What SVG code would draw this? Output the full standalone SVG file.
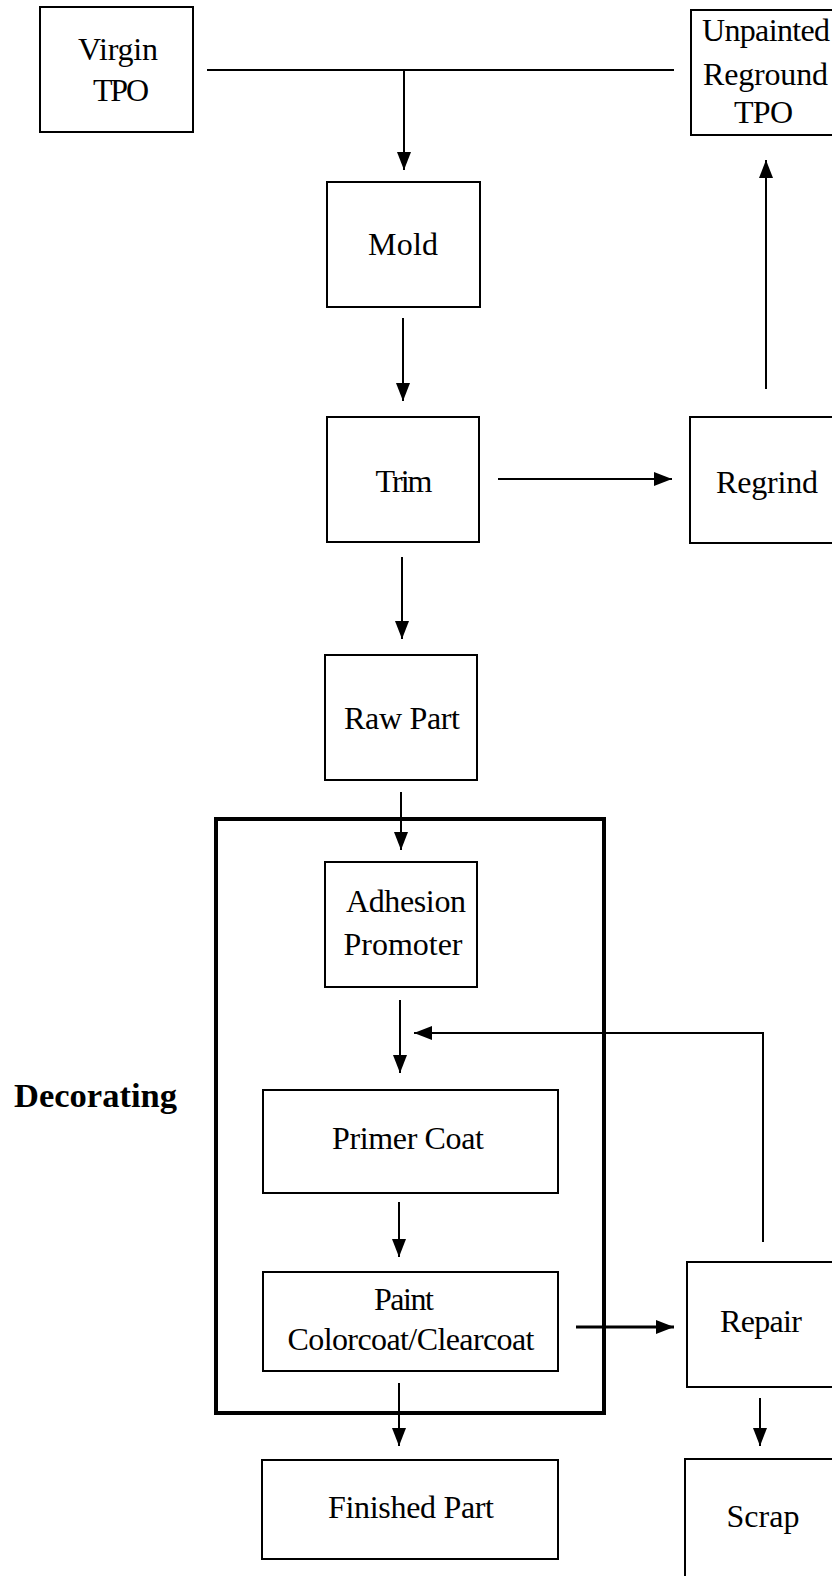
<svg xmlns="http://www.w3.org/2000/svg" width="832" height="1576" viewBox="0 0 832 1576">
  <style>
    .box { fill: #fff; stroke: #000; stroke-width: 2; }
    .frame { fill: none; stroke: #000; stroke-width: 4; }
    .lbl { font-family: "Liberation Serif", "Times New Roman", serif; font-size: 32px; fill: #000; }
    .mid { text-anchor: middle; }
    .bold { font-weight: bold; font-size: 34px; }
    .wire { fill: none; stroke: #000; stroke-width: 2; }
    .thick { stroke-width: 3; }
    .arr { marker-end: url(#head); }
  </style>
  <defs>
    <marker id="head" viewBox="0 0 18 14" refX="18" refY="7" markerWidth="18" markerHeight="14" markerUnits="userSpaceOnUse" orient="auto">
      <path d="M0,0 L18,7 L0,14 z" fill="#000"/>
    </marker>
  </defs>
  <rect width="832" height="1576" fill="#fff"/>

  <!-- decorating section frame -->
  <g id="decorating">
    <rect class="frame" x="216" y="819" width="388" height="594"/>
    <text class="lbl bold" x="14" y="1107" textLength="163" lengthAdjust="spacingAndGlyphs">Decorating</text>
  </g>

  <g id="connectors">
    <!-- feed line joining both material sources -->
    <path class="wire" d="M207,70 H674"/>
    <path class="wire arr" d="M404,70 V170"/>
    <path class="wire arr" d="M766,389 V160"/>
    <path class="wire arr" d="M403,318 V401"/>
    <path class="wire arr" d="M498,479 H672"/>
    <path class="wire arr" d="M402,557 V639"/>
    <path class="wire arr" d="M401,792 V850"/>
    <path class="wire arr" d="M400,1000 V1073"/>
    <!-- repair loop back into primer -->
    <path class="wire arr" d="M763,1242 V1033 H414"/>
    <path class="wire arr" d="M399,1202 V1257"/>
    <path class="wire thick arr" d="M576,1327 H674"/>
    <path class="wire arr" d="M399,1383 V1446"/>
    <path class="wire arr" d="M760,1398 V1446"/>
  </g>

  <g id="virgin-tpo">
    <rect class="box" x="40" y="7" width="153" height="125"/>
    <text class="lbl mid" x="118" y="60" textLength="80">Virgin</text>
    <text class="lbl mid" x="121" y="101" textLength="56">TPO</text>
  </g>

  <g id="unpainted-reground">
    <rect class="box" x="691" y="10" width="160" height="125"/>
    <text class="lbl" x="702" y="41" textLength="128">Unpainted</text>
    <text class="lbl" x="703" y="85" textLength="125">Reground</text>
    <text class="lbl" x="734" y="123" textLength="59">TPO</text>
  </g>

  <g id="mold">
    <rect class="box" x="327" y="182" width="153" height="125"/>
    <text class="lbl mid" x="403" y="255" textLength="70">Mold</text>
  </g>

  <g id="trim">
    <rect class="box" x="327" y="417" width="152" height="125"/>
    <text class="lbl mid" x="404" y="492" textLength="57">Trim</text>
  </g>

  <g id="regrind">
    <rect class="box" x="690" y="417" width="160" height="126"/>
    <text class="lbl mid" x="767" y="493" textLength="102">Regrind</text>
  </g>

  <g id="raw-part">
    <rect class="box" x="325" y="655" width="152" height="125"/>
    <text class="lbl mid" x="402" y="729" textLength="116">Raw Part</text>
  </g>

  <g id="adhesion-promoter">
    <rect class="box" x="325" y="862" width="152" height="125"/>
    <text class="lbl mid" x="406" y="912" textLength="120">Adhesion</text>
    <text class="lbl mid" x="403" y="955" textLength="119">Promoter</text>
  </g>

  <g id="primer-coat">
    <rect class="box" x="263" y="1090" width="295" height="103"/>
    <text class="lbl mid" x="408" y="1149" textLength="152">Primer Coat</text>
  </g>

  <g id="paint">
    <rect class="box" x="263" y="1272" width="295" height="99"/>
    <text class="lbl mid" x="404" y="1310" textLength="60">Paint</text>
    <text class="lbl mid" x="411" y="1350" textLength="247">Colorcoat/Clearcoat</text>
  </g>

  <g id="repair">
    <rect class="box" x="687" y="1262" width="160" height="125"/>
    <text class="lbl mid" x="761" y="1332" textLength="82">Repair</text>
  </g>

  <g id="finished-part">
    <rect class="box" x="262" y="1460" width="296" height="99"/>
    <text class="lbl mid" x="411" y="1518" textLength="166">Finished Part</text>
  </g>

  <g id="scrap">
    <rect class="box" x="685" y="1459" width="160" height="130"/>
    <text class="lbl mid" x="763" y="1527" textLength="73">Scrap</text>
  </g>
</svg>
